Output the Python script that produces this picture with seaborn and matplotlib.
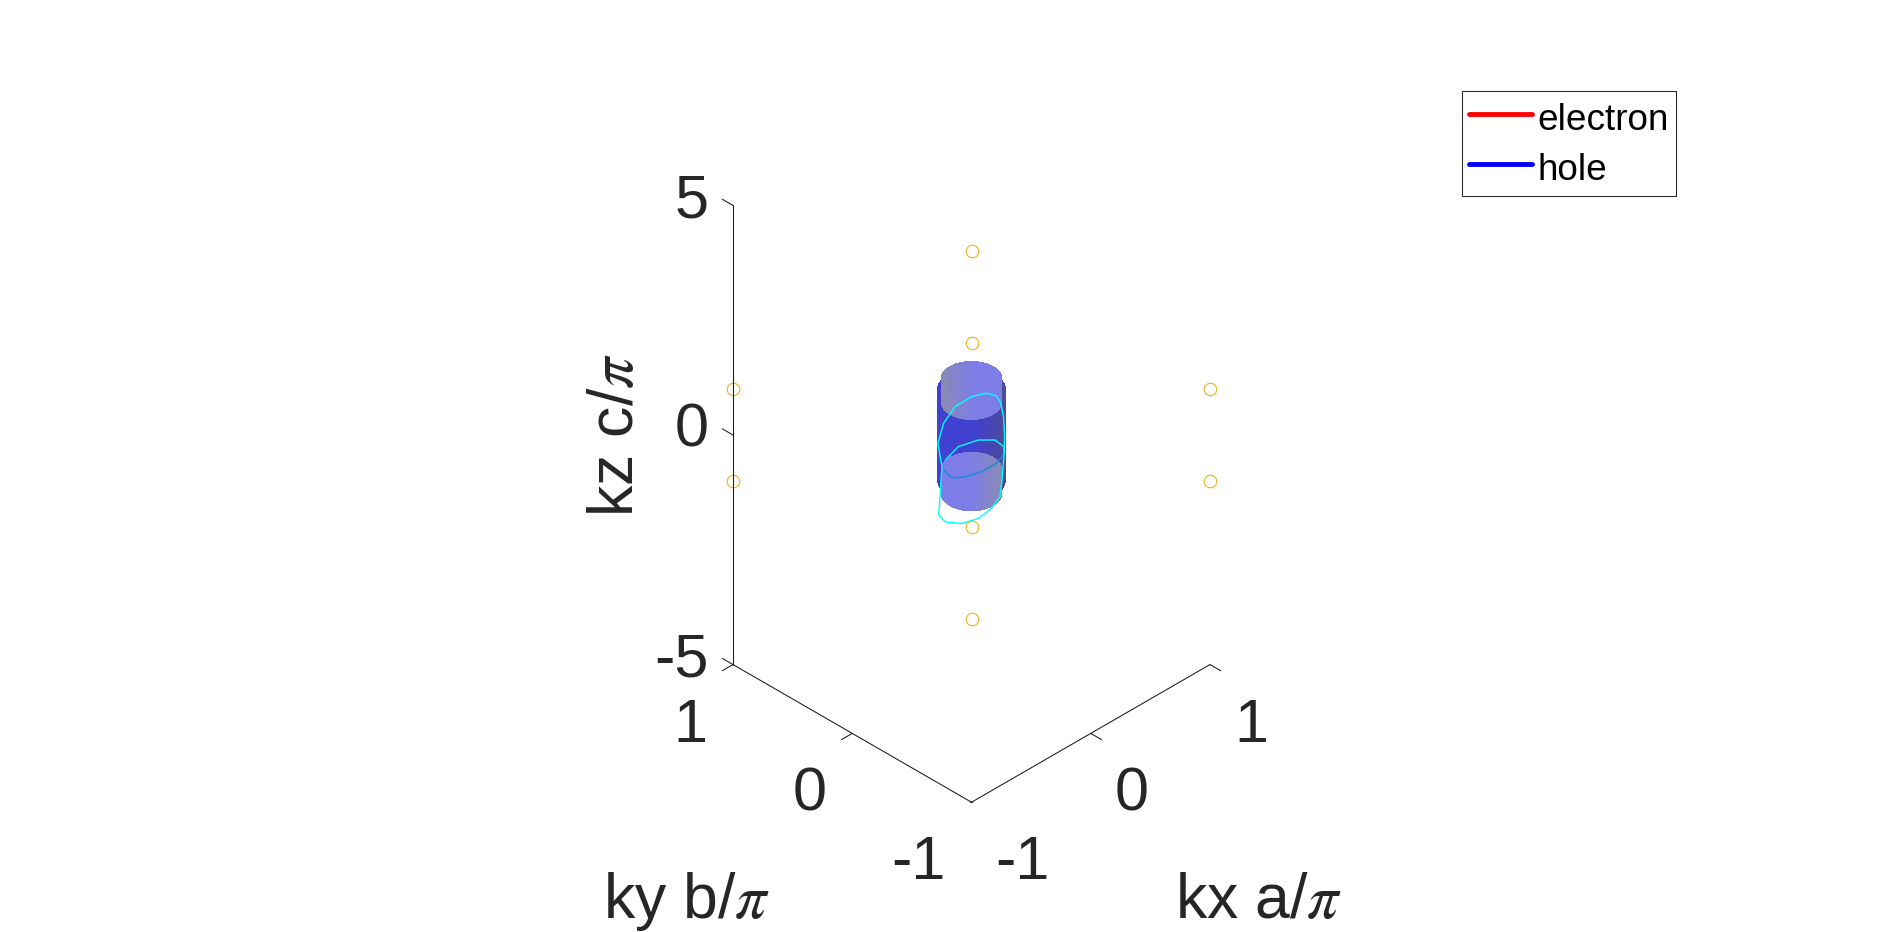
import numpy as np
import matplotlib
matplotlib.use("Agg")
import matplotlib.pyplot as plt
import seaborn as sns
from matplotlib.lines import Line2D

# ---------------- data ----------------
legend_labels = ["electron", "hole"]
legend_colors = ["#ff0000", "#0000ff"]

# high-symmetry corner points of the zone (kx, ky, kz)
corner_kx = [-1, -1, 1, 1, 1, 1, -1, -1]
corner_ky = [1, 1, -1, -1, 1, 1, -1, -1]
corner_kz = [1, -1, 1, -1, 1, -1, 1, -1]

# hole pocket pieces
barrel_radius = 0.20
barrel_kz = [-1.0, 1.0]
pocket_radius = 0.18
top_pocket_kz = [0.72, 1.22]
bottom_pocket_kz = [-1.27, -0.76]

# orbit A (outer cyan loop)
orbitA_kx = [0.063, 0.105, 0.123, 0.134, 0.139, 0.136, 0.128, 0.119, 0.084, 0.028,
             -0.041, -0.110, -0.138, -0.131, -0.124, -0.141, -0.117, -0.069, 0.001, 0.063]
orbitA_ky = [-v for v in orbitA_kx]
orbitA_kz = [0.910, 0.852, 0.692, 0.400, -0.037, -0.474, -0.983, -1.347, -1.600, -1.819,
             -1.928, -1.893, -1.747, -1.273, -0.692, -0.181, 0.255, 0.618, 0.836, 0.910]

# orbit B (inner loop); first part lies behind the pocket
orbitB_kx = [0.139, 0.105, 0.042, -0.027, -0.069, -0.089, -0.117, -0.110, -0.055, 0.028,
             0.098, 0.136, 0.139]
orbitB_ky = [-v for v in orbitB_kx]
orbitB_kz = [-0.400, -0.618, -0.801, -0.910, -0.932, -0.910, -0.764, -0.546, -0.255, -0.109,
             -0.109, -0.255, -0.400]
orbitB_split = 6

kx_ticks = [-1, 0, 1]
ky_ticks = [-1, 0, 1]
kz_ticks = [-5, 0, 5]
xlabel = r"kx a/$\pi$"
ylabel = r"ky b/$\pi$"
zlabel = r"kz c/$\pi$"

# ---------------- style ----------------
sns.set_theme(style="white")
plt.rcParams["font.family"] = ["Liberation Sans", "DejaVu Sans"]
plt.rcParams["mathtext.fontset"] = "stix"

W, H = 1877, 932
fig = plt.figure(figsize=(W / 100, H / 100), dpi=100)
fig.patch.set_facecolor("white")
ax = fig.add_axes([0.25, 0.0, 0.5, 1.0], projection="3d", proj_type="ortho",
                  computed_zorder=False)
ax.set_xlim(-1, 1)
ax.set_ylim(-1, 1)
ax.set_zlim(-5, 5)
ax.set_box_aspect((1, 1, 1.667))
ax.view_init(elev=35.26, azim=-135)
ax.set_axis_off()
ax.patch.set_alpha(0)

AXC = (0.15, 0.15, 0.15)


def tube(radius, z0, z1, nphi=120, nz=6):
    phi = np.linspace(0, 2 * np.pi, nphi)
    zz = np.linspace(z0, z1, nz)
    P, Z = np.meshgrid(phi, zz)
    t = (1 + np.cos(P + np.pi / 4)) / 2
    return radius * np.cos(P), radius * np.sin(P), Z, t


def disk(radius, z, nphi=120, nr=10):
    phi = np.linspace(0, 2 * np.pi, nphi)
    rr = np.linspace(0, radius, nr)
    P, R = np.meshgrid(phi, rr)
    t = (1 + (R / radius) * np.cos(P + np.pi / 4)) / 2
    return R * np.cos(P), R * np.sin(P), np.full_like(R, z), t


def shade(t, left_col, right_col, flip=False, knee=0.55):
    if flip:
        t = 1 - t
    s = np.clip(t / knee, 0, 1) ** 0.8
    lc = np.array(left_col)
    rc = np.array(right_col)
    col = lc[None, None, :] * (1 - s[..., None]) + rc[None, None, :] * s[..., None]
    return np.concatenate([col, np.ones(col.shape[:2] + (1,))], axis=-1)


def surf(X, Y, Z, fc, z):
    ax.plot_surface(X, Y, Z, facecolors=fc, rcount=Z.shape[0], ccount=Z.shape[1],
                    linewidth=0, antialiased=False, shade=False, zorder=z)


# dark barrel (two overlapping layers)
X, Y, Z, t = tube(barrel_radius, barrel_kz[0], barrel_kz[1])
surf(X, Y, Z, shade(t, (0.30, 0.30, 0.58), (0.25, 0.25, 0.82), flip=True, knee=0.5), 1)

# orbit B, visible upper part
ax.plot(orbitB_kx[orbitB_split:], orbitB_ky[orbitB_split:], orbitB_kz[orbitB_split:],
        color=(0.0, 1.0, 1.0), lw=1.0, zorder=2)

# light pocket ends
GREY = (0.55, 0.55, 0.67)
LBLUE = (0.49, 0.49, 0.91)
X, Y, Z, t = tube(pocket_radius, top_pocket_kz[0], top_pocket_kz[1])
surf(X, Y, Z, shade(t, GREY, LBLUE), 3)
X, Y, Z, t = disk(pocket_radius, top_pocket_kz[1])
surf(X, Y, Z, shade(t, GREY, LBLUE), 3)
X, Y, Z, t = tube(pocket_radius, bottom_pocket_kz[0], bottom_pocket_kz[1])
surf(X, Y, Z, shade(t, GREY, LBLUE, flip=True), 3)
X, Y, Z, t = disk(pocket_radius, bottom_pocket_kz[1])
surf(X, Y, Z, shade(t, GREY, LBLUE, flip=True), 3)

# orbit B, part seen through the pocket
ax.plot(orbitB_kx[:orbitB_split + 1], orbitB_ky[:orbitB_split + 1], orbitB_kz[:orbitB_split + 1],
        color=(0.05, 0.55, 0.85), lw=1.0, zorder=3.5)

# orbit A
ax.plot(orbitA_kx, orbitA_ky, orbitA_kz, color=(0.0, 1.0, 1.0), lw=1.0, zorder=4)

# corner points
ax.plot(corner_kx, corner_ky, corner_kz, ls="none", marker="o", ms=9,
        mfc="none", mec=(0.929, 0.694, 0.125), mew=0.8, zorder=5)

# axis lines
x0, x1 = kx_ticks[0], kx_ticks[-1]
y0, y1 = ky_ticks[0], ky_ticks[-1]
z0, z1 = kz_ticks[0], kz_ticks[-1]
LC = (0.1, 0.1, 0.1)
ax.plot([x0, x0], [y1, y1], [z0, z1], color=LC, lw=0.75, zorder=6)
ax.plot([x0, x0], [y0, y1], [z0, z0], color=LC, lw=0.75, zorder=6)
ax.plot([x0, x1], [y0, y0], [z0, z0], color=LC, lw=0.75, zorder=6)
tl = 0.09
for v in kz_ticks:
    ax.plot([x0, x0], [y1, y1 + tl], [v, v], color=LC, lw=0.75, zorder=6)
for v in kx_ticks:
    ax.plot([v, v], [y0, y0 - tl], [z0, z0], color=LC, lw=0.75, zorder=6)
for v in ky_ticks:
    ax.plot([x0, x0 - tl], [v, v], [z0, z0], color=LC, lw=0.75, zorder=6)


def px(x, y, z):
    M = ax.get_proj()
    v = M @ np.array([x, y, z, 1.0])
    d = ax.transData.transform((v[0] / v[3], v[1] / v[3]))
    return d[0], H - d[1]


# fit the box onto the target frame
fig.canvas.draw()
ax_, _ = px(x0, y1, z0)
bx_, _ = px(x1, y0, z0)
s = (1210 - 733) / (bx_ - ax_)
pos = ax.get_position()
cx, cy = pos.x0 + pos.width / 2, pos.y0 + pos.height / 2
w, h = pos.width * s, pos.height * s
ax.set_position([cx - w / 2, cy - h / 2, w, h])
fig.canvas.draw()
ox, oy = px(0, 0, 0)
pos = ax.get_position()
ax.set_position([pos.x0 + (971.5 - ox) / W, pos.y0 - (435 - oy) / H, pos.width, pos.height])
fig.canvas.draw()

TFS = 44
LFS = 45


def ftext(xp, yp, s, **kw):
    fig.text(xp / W, 1 - yp / H, s, **kw)


for v in kz_ticks:
    tx, ty = px(x0, y1, v)
    ftext(tx - 24, ty + 12, str(v), ha="right", va="baseline", fontsize=TFS, color=AXC)
for v in kx_ticks:
    tx, ty = px(v, y0, z0)
    ftext(tx + 24, ty + 77, str(v), ha="left", va="baseline", fontsize=TFS, color=AXC)
for v in ky_ticks:
    tx, ty = px(x0, v, z0)
    ftext(tx - 26, ty + 77, str(v), ha="right", va="baseline", fontsize=TFS, color=AXC)

tx, ty = px(0, y0, z0)
ftext(tx + 167.5, ty + 184.5, xlabel, ha="center", va="baseline", fontsize=LFS, color=AXC)
tx, ty = px(x0, 0, z0)
ftext(tx - 165.5, ty + 185, ylabel, ha="center", va="baseline", fontsize=LFS, color=AXC)
tx, ty = px(x0, y1, 0)
ftext(tx - 100, ty, zlabel, ha="center", va="baseline", rotation=90,
      rotation_mode="anchor", fontsize=LFS, color=AXC)

handles = [Line2D([0], [0], color=c, lw=3.5) for c in legend_colors]
leg = fig.legend(handles, legend_labels, loc="upper left",
                 bbox_to_anchor=(1461.7 / W, 1 - 90.7 / H), bbox_transform=fig.transFigure,
                 borderaxespad=0, fontsize=26.6, frameon=True, fancybox=False,
                 framealpha=1, borderpad=0.21, labelspacing=0.29, handlelength=1.68,
                 handleheight=1.2, handletextpad=0.15)
leg.get_frame().set_edgecolor(AXC)
leg.get_frame().set_linewidth(0.75)
for t in leg.get_texts():
    t.set_color("black")

fig.savefig("out.png", dpi=100, facecolor="white")
